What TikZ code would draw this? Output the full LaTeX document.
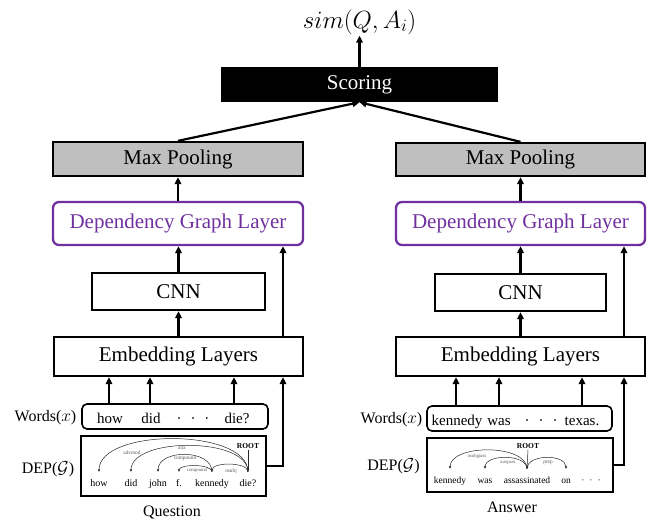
\documentclass[tikz,border=0pt]{standalone}
\usepackage{fontspec}
\setmainfont{Liberation Serif}
\usetikzlibrary{arrows.meta}
\definecolor{dgpurple}{HTML}{7030A0}
\definecolor{mpgray}{HTML}{BFBFBF}
\begin{document}
\begin{tikzpicture}[x=1pt,y=-1pt,
  layer/.style={draw=black, line width=2.3pt, inner sep=0pt, font=\fontsize{21}{24}\selectfont},
  pool/.style={layer, fill=mpgray},
  dgl/.style={layer, draw=dgpurple, text=dgpurple, rounded corners=6pt},
  score/.style={fill=black, text=white, inner sep=0pt, font=\fontsize{21}{24}\selectfont},
  wordbox/.style={draw=black, line width=1.6pt, rounded corners=5pt, inner sep=0pt},
  depbox/.style={draw=black, line width=1.6pt, inner sep=0pt},
  arr/.style={line width=2.2pt, -{Triangle[length=7pt,width=6.5pt]}},
  deparc/.style={line width=0.5pt, draw=black!85, -{Stealth[length=3pt,width=2.6pt]}},
  deplab/.style={font=\fontsize{5.3}{6}\selectfont, text=black!65, inner sep=0pt},
  rootlab/.style={font=\bfseries\fontsize{7.5}{8}\selectfont, inner sep=1pt},
  depword/.style={font=\fontsize{10}{12}\selectfont, anchor=base, text height=7pt, text depth=2pt, inner xsep=0pt, inner ysep=7pt},
  depwordA/.style={depword, font=\fontsize{9.5}{11}\selectfont},
  wtext/.style={font=\fontsize{15}{18}\selectfont, anchor=base, inner sep=0pt},
  side/.style={font=\fontsize{16}{19}\selectfont, inner sep=0pt},
  caption/.style={font=\fontsize{16}{19}\selectfont, inner sep=0pt}
]
\useasboundingbox (0,0) rectangle (654,520);

% ---------- top ----------
\node[score, minimum width=277pt, minimum height=35pt] (sc) at (359.5,84.5) {Scoring};
\node[inner sep=1pt, font=\fontsize{23}{26}\selectfont] (sim) at (359.5,22) {$sim(Q,A_i)$};

% ---------- question column ----------
\node[pool, minimum width=250pt, minimum height=34pt] (mpq) at (178,159) {Max Pooling};
\node[dgl, minimum width=250pt, minimum height=43pt] (dglq) at (178,223.5) {Dependency Graph Layer};
\node[layer, minimum width=173pt, minimum height=37pt] (cnnq) at (178.5,291.5) {CNN};
\node[layer, minimum width=249pt, minimum height=39pt] (embq) at (178.5,356.5) {Embedding Layers};
\node[wordbox, minimum width=186pt, minimum height=25pt] (wq) at (175,416.5) {};
\node[depbox, minimum width=185pt, minimum height=60pt] (depq) at (173.5,466) {};

\node[side, anchor=base] (wlq) at (45.5,421) {Words($x$)};
\node[side] (dlq) at (48,469) {DEP($\mathcal{G}$)};
\node[caption] (capq) at (172,512) {Question};

\node[wtext] (wq1) at (110,423) {how};
\node[wtext] (wq2) at (151,423) {did};
\node[wtext] (wq3) at (193,423) {\textperiodcentered\hspace{9pt}\textperiodcentered\hspace{9pt}\textperiodcentered};
\node[wtext] (wq4) at (237,423) {die?};

% dependency tree (question)
\node[depword] (qhow) at (99,486) {how};
\node[depword] (qdid) at (131,486) {did};
\node[depword] (qjohn) at (158,486) {john};
\node[depword] (qf) at (179,486) {f.};
\node[depword] (qken) at (212,486) {kennedy};
\node[depword] (qdie) at (248,486) {die?};
\node[rootlab] (qroot) at (248,446) {ROOT};
\draw[deparc] (qroot.south) -- (qdie.north);
\draw[deparc] (qdie.north) .. controls +(0,-44) and +(0,-44) .. (qhow.north);
\draw[deparc] (qdie.north) .. controls +(0,-35) and +(0,-35) .. (qdid.north);
\draw[deparc] (qken.north) .. controls +(0,-23) and +(0,-23) .. (qjohn.north);
\draw[deparc] (qken.north) .. controls +(0,-8) and +(0,-8) .. (qf.north);
\draw[deparc] (qdie.north) .. controls +(0,-10) and +(0,-10) .. (qken.north);
\node[deplab] (lq1) at (132,452.5) {advmod};
\node[deplab] (lq2) at (182,448.5) {aux};
\node[deplab] (lq3) at (185,458.5) {compound};
\node[deplab, font=\fontsize{4.8}{5}\selectfont] (lq4) at (197,470.5) {compound};
\node[deplab] (lq5) at (231,471) {nsubj};

% connectors (question)
\coordinate (q1) at (109,0);
\coordinate (q2) at (150,0);
\coordinate (q3) at (234,0);
\coordinate (bq) at (283,0);
\draw[arr] (wq.north -| q1) -- (embq.south -| q1);
\draw[arr] (wq.north -| q2) -- (embq.south -| q2);
\draw[arr] (wq.north -| q3) -- (embq.south -| q3);
\draw[arr] (depq.east) -| (embq.south -| bq);
\draw[arr] (embq.north -| bq) -- (dglq.south -| bq);
\draw[arr] (embq.north) -- (cnnq.south);
\draw[arr] (cnnq.north) -- (cnnq.north |- dglq.south);
\draw[arr] (dglq.north) -- (mpq.south);

% ---------- answer column ----------
\node[pool, minimum width=249pt, minimum height=33pt] (mpa) at (520.5,159.5) {Max Pooling};
\node[dgl, minimum width=249pt, minimum height=43pt] (dgla) at (520.5,223.5) {Dependency Graph Layer};
\node[layer, minimum width=171pt, minimum height=37pt] (cnna) at (520.5,292.5) {CNN};
\node[layer, minimum width=249pt, minimum height=39pt] (emba) at (520.5,356.5) {Embedding Layers};
\node[wordbox, minimum width=185pt, minimum height=25pt] (wa) at (519.5,418.5) {};
\node[depbox, minimum width=186pt, minimum height=54pt] (depa) at (520,465) {};

\node[side, anchor=base] (wla) at (391.5,423.5) {Words($x$)};
\node[side] (dla) at (393.5,466) {DEP($\mathcal{G}$)};
\node[caption] (capa) at (512,507) {Answer};

\node[wtext] (wa1) at (457,425) {kennedy};
\node[wtext] (wa2) at (499,425) {was};
\node[wtext] (wa3) at (541,425) {\textperiodcentered\hspace{9pt}\textperiodcentered\hspace{9pt}\textperiodcentered};
\node[wtext] (wa4) at (582,425) {texas.};

% dependency tree (answer)
\node[depwordA] (aken) at (450,483) {kennedy};
\node[depwordA] (awas) at (485,483) {was};
\node[depwordA] (aass) at (527,483) {assassinated};
\node[depwordA] (aon) at (566,483) {on};
\node[depwordA] (adots) at (591,483) {\textperiodcentered\hspace{5pt}\textperiodcentered\hspace{5pt}\textperiodcentered};
\node[rootlab] (aroot) at (528,446) {ROOT};
\draw[deparc] (aroot.south) -- (aass.north);
\draw[deparc] (aass.north) .. controls +(0,-25) and +(0,-25) .. (aken.north);
\draw[deparc] (aass.north) .. controls +(0,-15) and +(0,-15) .. (awas.north);
\draw[deparc] (aass.north) .. controls +(0,-15) and +(0,-15) .. (aon.north);
\node[deplab, font=\fontsize{4.8}{5}\selectfont] (la1) at (477,456) {nsubjpass};
\node[deplab, font=\fontsize{4.8}{5}\selectfont] (la2) at (508,463) {auxpass};
\node[deplab] (la3) at (548,463) {prep};

% connectors (answer)
\coordinate (a1) at (456,0);
\coordinate (a2) at (499,0);
\coordinate (a3) at (582,0);
\coordinate (ba) at (624,0);
\draw[arr] (wa.north -| a1) -- (emba.south -| a1);
\draw[arr] (wa.north -| a2) -- (emba.south -| a2);
\draw[arr] (wa.north -| a3) -- (emba.south -| a3);
\draw[arr] (depa.east) -| (emba.south -| ba);
\draw[arr] (emba.north -| ba) -- (dgla.south -| ba);
\draw[arr] (emba.north) -- (cnna.south);
\draw[arr] (cnna.north) -- (dgla.south);
\draw[arr] (dgla.north) -- (mpa.south);

% ---------- to scoring ----------
\draw[arr] (mpq.north) -- (sc.south);
\draw[arr] (mpa.north) -- (sc.south);
\draw[arr] (sc.north) -- (sim.south);
\end{tikzpicture}
\end{document}
